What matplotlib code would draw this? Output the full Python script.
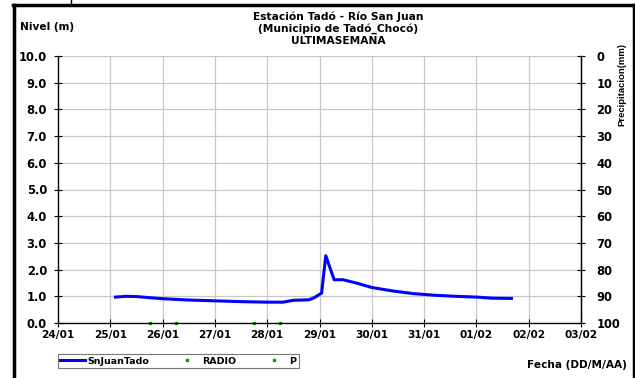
import matplotlib
matplotlib.use("Agg")
import matplotlib.pyplot as plt
from matplotlib.lines import Line2D
import numpy as np

plt.rcParams['font.family'] = ['DejaVu Sans']
plt.rcParams['font.weight'] = 'bold'

# Days counted from 24/01 (0 = 24/01 00:00)
level_days = [1.1, 1.3, 1.5, 1.8, 2.0, 2.5, 3.0, 3.5, 4.0, 4.3, 4.5, 4.8, 4.9, 5.04,
              5.12, 5.28, 5.45, 5.7, 6.0, 6.4, 6.8, 7.2, 7.6, 8.0, 8.3, 8.67]
level_vals = [0.97, 1.0, 0.99, 0.94, 0.91, 0.86, 0.83, 0.80, 0.78, 0.78, 0.85, 0.87, 0.95, 1.12,
              2.52, 1.62, 1.62, 1.50, 1.33, 1.20, 1.10, 1.04, 1.00, 0.97, 0.93, 0.92]
radio_days = [1.76, 3.75]
radio_vals = [0.0, 0.0]
p_days = [2.26, 4.25]
p_vals = [0.0, 0.0]

xtick_labels = ['24/01', '25/01', '26/01', '27/01', '28/01', '29/01', '30/01',
                '31/01', '01/02', '02/02', '03/02']
ytick_labels = ['0.0', '1.0', '2.0', '3.0', '4.0', '5.0', '6.0', '7.0', '8.0', '9.0', '10.0']
precip_ticks = [0, 10, 20, 30, 40, 50, 60, 70, 80, 90, 100]

fig = plt.figure(figsize=(6.35, 3.78), dpi=100)
W, H = 635, 378
ax = fig.add_axes([58 / W, 1 - 323 / H, (581 - 58) / W, (323 - 56) / H])

ax.plot(level_days, level_vals, color='#0000ff', lw=2.2, solid_joinstyle='round')
ax.plot(radio_days, radio_vals, ls='none', marker='s', ms=1.6, color='#00a000', clip_on=False)
ax.plot(p_days, p_vals, ls='none', marker='s', ms=1.6, color='#00a000', clip_on=False)

ax.set_xlim(0, 10)
ax.set_ylim(0, 10)
ax.set_xticks(range(11))
ax.set_xticklabels(xtick_labels, fontsize=7.6, fontweight='bold')
ax.set_yticks(range(11))
ax.set_yticklabels(ytick_labels, fontsize=8.3, fontweight='bold')
ax.grid(True, color='#c8c8c8', lw=0.9)
ax.set_axisbelow(True)
ax.spines['top'].set_visible(False)
for s in ['left', 'bottom', 'right']:
    ax.spines[s].set_linewidth(0.9)
ax.tick_params(axis='both', direction='inout', length=6, width=0.8, pad=2)
ax.tick_params(axis='y', pad=5)

ax2 = ax.twinx()
ax2.set_ylim(100, 0)
ax2.set_yticks(precip_ticks)
ax2.set_yticklabels([str(t) for t in precip_ticks], fontsize=8.3, fontweight='bold')
ax2.tick_params(axis='y', direction='inout', length=6, width=0.8, pad=8)
ax2.spines['top'].set_visible(False)
ax2.spines['right'].set_linewidth(0.9)
fig.text(622 / W, 1 - 85 / H, 'Precipitacion(mm)', rotation=90, ha='center', va='center',
         fontsize=6.8, fontweight='bold', family=['Liberation Sans', 'DejaVu Sans'])

fig.text(338 / W, 1 - 11 / H, 'Estación Tadó - Río San Juan\n(Municipio de Tadó_Chocó)\nULTIMASEMANA',
         ha='center', va='top', fontsize=7.7, fontweight='bold', linespacing=1.2)
fig.text(20 / W, 1 - 27 / H, 'Nivel (m)', ha='left', va='center', fontsize=7.6, fontweight='bold')
fig.text(627 / W, 1 - 365 / H, 'Fecha (DD/M/AA)', ha='right', va='center', fontsize=7.6, fontweight='bold')

handles = [Line2D([], [], color='#0000ff', lw=2.2),
           Line2D([], [], ls='none', marker='s', ms=1.6, color='#00a000'),
           Line2D([], [], ls='none', marker='s', ms=1.6, color='#00a000')]
leg = fig.legend(handles, ['SnJuanTado', 'RADIO', 'P'], loc='center',
                 bbox_to_anchor=(178.5 / W, 1 - 361 / H), ncol=3,
                 frameon=True, fancybox=False, edgecolor='#555555', handlelength=2.6,
                 columnspacing=2.7, handletextpad=0.3, borderpad=0.3,
                 prop={'weight': 'bold', 'size': 6.8})
leg.get_frame().set_linewidth(0.8)

# Outer frame lines (left, top, right)
fig.add_artist(Line2D([13.5 / W, 13.5 / W], [0, 1 - 4.5 / H], color='black', lw=2.5, transform=fig.transFigure))
fig.add_artist(Line2D([12.5 / W, 633.5 / W], [1 - 4.5 / H, 1 - 4.5 / H], color='black', lw=2.5, transform=fig.transFigure))
fig.add_artist(Line2D([633.5 / W, 633.5 / W], [0, 1 - 4.5 / H], color='black', lw=2.5, transform=fig.transFigure))
fig.add_artist(Line2D([70.5 / W, 70.5 / W], [1 - 4 / H, 1], color='black', lw=1, transform=fig.transFigure))

fig.savefig('out.png', dpi=100)
